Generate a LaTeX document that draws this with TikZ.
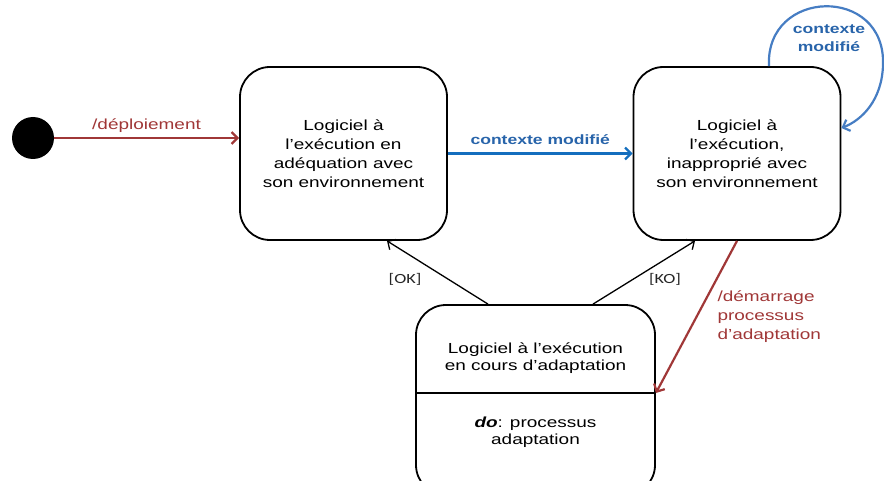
\documentclass[tikz,border=0pt]{standalone}
\usepackage{fontspec}
\setmainfont{Liberation Sans}[FakeStretch=1.3]
\newfontfamily\guardfont{Carlito}[FakeStretch=1.3]
\usepackage{xcolor}
\usepackage{tikz}
\usetikzlibrary{positioning,calc,arrows.meta}

\definecolor{trred}{RGB}{160,55,55}
\definecolor{trblue}{RGB}{20,110,190}
\definecolor{loopblue}{RGB}{70,125,195}
\definecolor{lblblue}{RGB}{40,100,170}

\tikzset{
    state/.style={draw, line width=1.8pt, rounded corners=30pt, align=center,
        font=\fontsize{14.6}{19}\selectfont},
    trans/.style={->, line width=1.3pt},
    event/.style={->, line width=2.2pt},
    guard/.style={font=\guardfont\fontsize{14}{16}\selectfont, text=black!85}
}

\begin{document}
\begin{tikzpicture}[x=1pt, y=-1pt, >={Straight Barb[length=6pt,width=12pt]}]
    \useasboundingbox (0,0) rectangle (884,481);

    % States
    \fill (33,138) circle (21) coordinate (init);
    \node[state, minimum width=207, minimum height=173] (ok) at (343.5,153.5)
        {Logiciel à\\l’exécution en\\adéquation avec\\son environnement};
    \node[state, minimum width=207, minimum height=173] (ko) at (737,153.5)
        {Logiciel à\\l’exécution,\\inapproprié avec\\son environnement};
    \node[state, minimum width=239, minimum height=190] (adapt) at (535.5,400) {};
    \coordinate (sep) at (adapt.east |- 0,393);
    \draw[line width=1.8pt] (adapt.west |- sep) -- (sep);
    \node[align=center, font=\fontsize{14.6}{17}\selectfont] (adapttxt) at (535.5,358)
        {Logiciel à l’exécution\\en cours d’adaptation};
    \node[align=center, font=\fontsize{14.6}{17}\selectfont] (dotxt) at (535.5,432)
        {\textbf{\textit{do}}: processus\\adaptation};

    % Transitions
    \draw[event, trred] ([xshift=21]init) -- (ok.west |- init)
        node[midway, above=1pt, font=\fontsize{14.6}{17}\selectfont] {/déploiement};
    \draw[event, trblue] (ok.east) -- (ko.west)
        node[midway, above=4pt, font=\bfseries\fontsize{13.5}{16}\selectfont, text=lblblue] {contexte modifié};
    \coordinate (loopa) at ([xshift=32]ko.north);
    \coordinate (loopb) at ([yshift=25.5]ko.east);
    \draw[event, loopblue] (loopa) .. controls (765,-12) and (886,-15) .. (883,65)
        .. controls (882,100) and (862,120) .. (loopb);
    \node[align=center, text=lblblue, font=\bfseries\fontsize{13.5}{18}\selectfont] (looplbl) at (829,38)
        {contexte\\modifié};
    \draw[trans] ([xshift=-47.5]adapt.north) -- ([xshift=43.5]ok.south);
    \node[guard] (oklbl) at (405,279) {[OK]};
    \draw[trans] ([xshift=57.5]adapt.north) -- ([xshift=-42]ko.south);
    \node[guard] (kolbl) at (665,279) {[KO]};
    \draw[event, trred] (ko.south) -- (sep);
    \node[anchor=west, align=left, text=trred, font=\fontsize{14.6}{19}\selectfont] (startlbl) at (714,317)
        {/démarrage\\processus\\d’adaptation};
\end{tikzpicture}
\end{document}
